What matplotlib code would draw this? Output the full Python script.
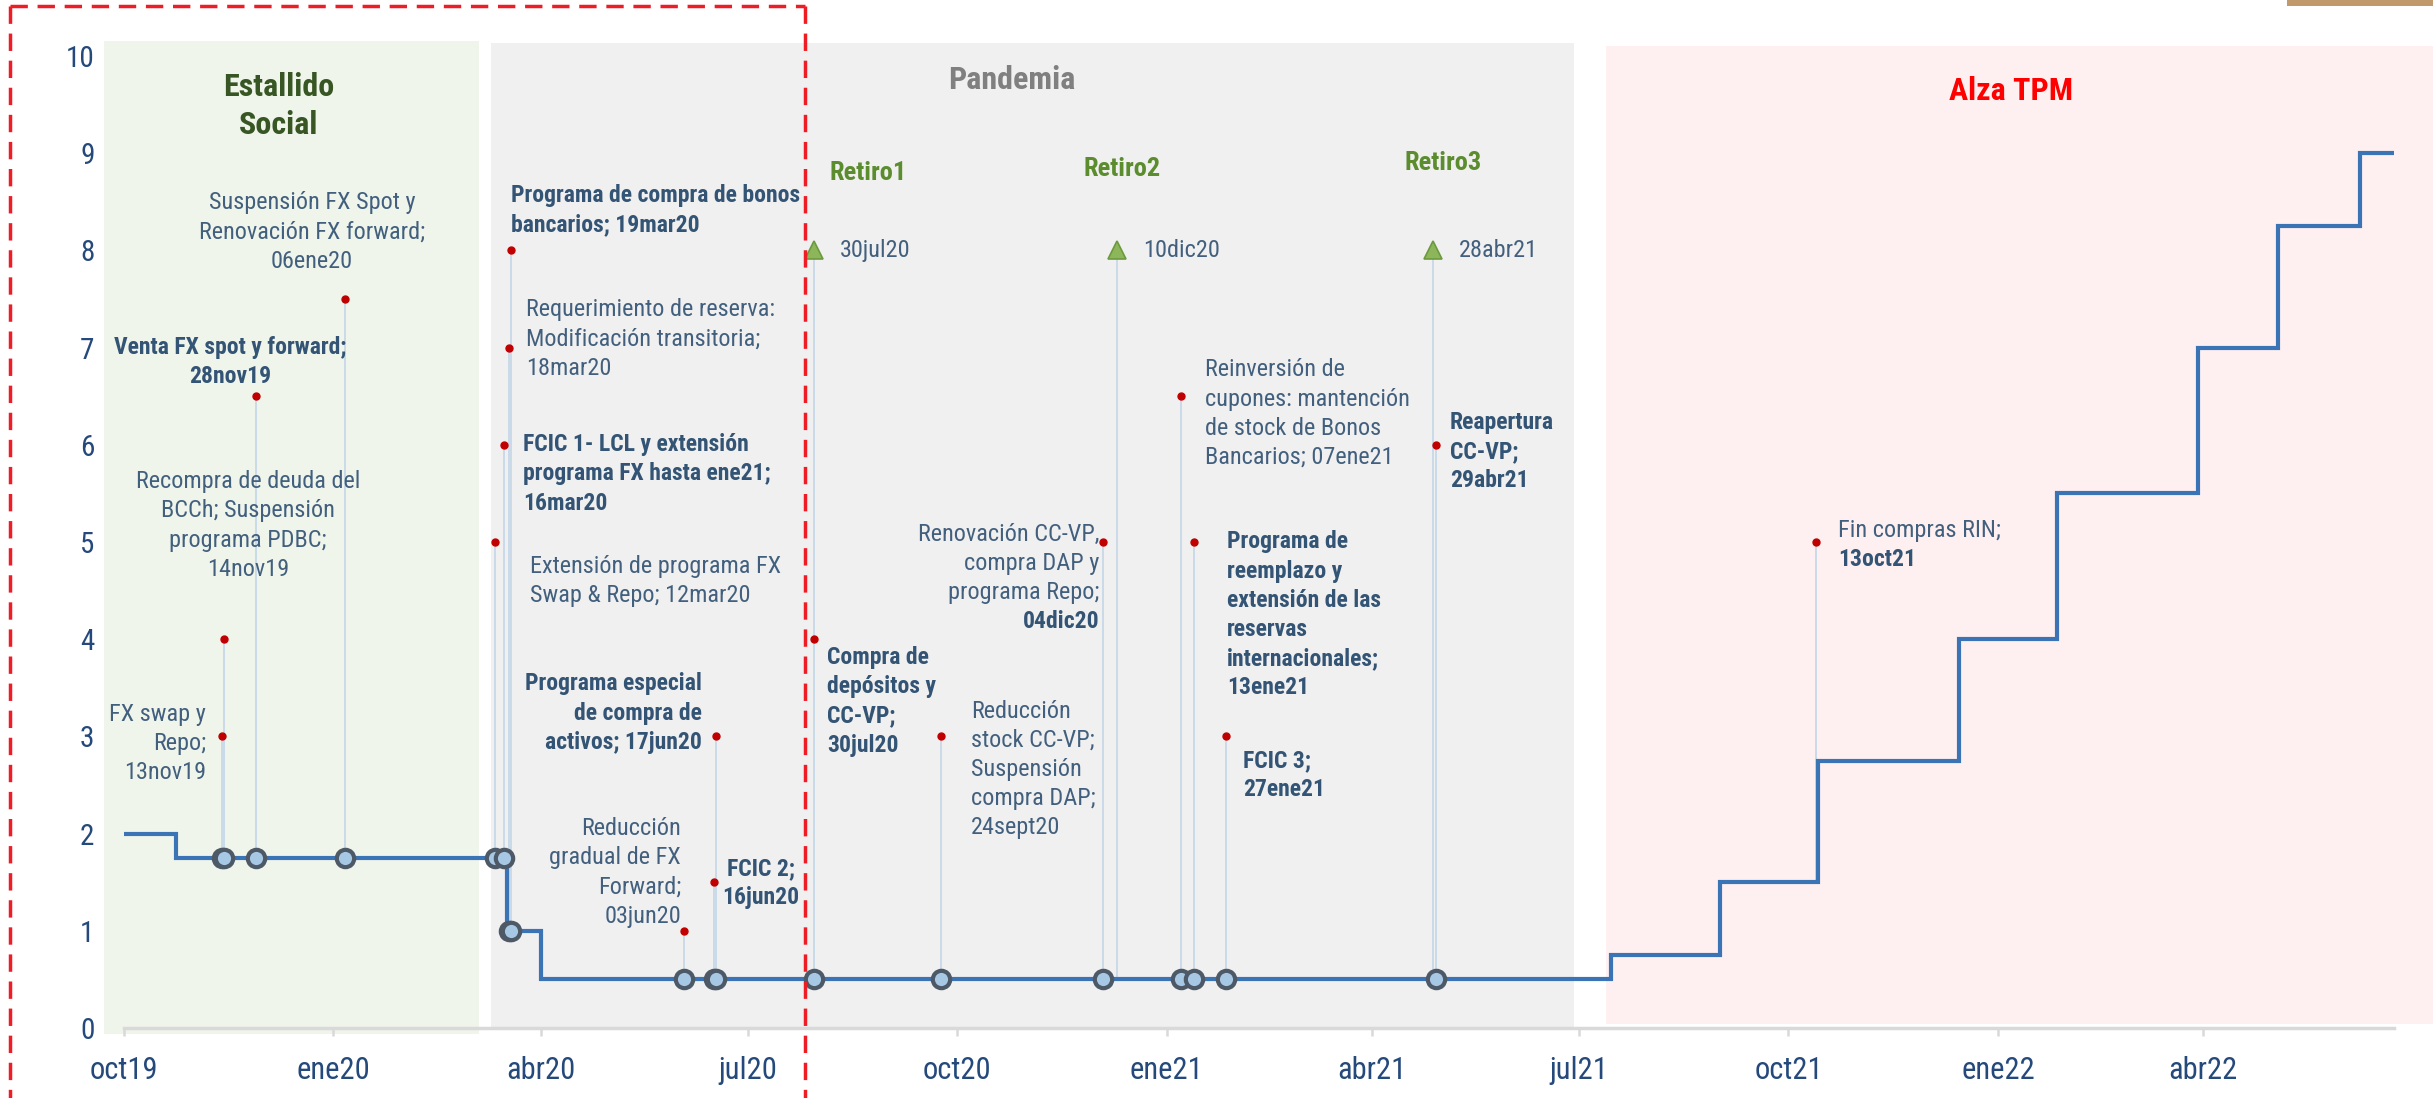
import matplotlib
matplotlib.use("Agg")
import matplotlib.pyplot as plt
import matplotlib.dates as mdates
from matplotlib import font_manager
import numpy as np
import pandas as pd
from matplotlib.patches import Rectangle
from matplotlib.lines import Line2D

# ---------------- DATA ----------------
tpm_dates = ['2019-10-01', '2019-10-24', '2020-03-17', '2020-04-01', '2021-07-15',
             '2021-09-01', '2021-10-14', '2021-12-15', '2022-01-27', '2022-03-30',
             '2022-05-04', '2022-06-09', '2022-06-24']
tpm_values = [2.0, 1.75, 1.0, 0.5, 0.75, 1.5, 2.75, 4.0, 5.5, 7.0, 8.25, 9.0, 9.0]

event_dates = ['2019-11-13', '2019-11-14', '2019-11-28', '2020-01-06', '2020-03-12',
               '2020-03-16', '2020-03-18', '2020-03-19', '2020-06-03', '2020-06-16',
               '2020-06-17', '2020-07-30', '2020-09-24', '2020-12-04', '2021-01-07',
               '2021-01-13', '2021-01-27', '2021-04-29', '2021-10-13']
event_heights = [3, 4, 6.5, 7.5, 5, 6, 7, 8, 1, 1.5, 3, 4, 3, 5, 6.5, 5, 3, 6, 5]
event_labels = [
    "FX swap y\nRepo;\n13nov19",
    "Recompra de deuda del\nBCCh; Suspensión\nprograma PDBC;\n14nov19",
    "Venta FX spot y forward;\n28nov19",
    "Suspensión FX Spot y\nRenovación FX forward;\n06ene20",
    "Extensión de programa FX\nSwap & Repo; 12mar20",
    "FCIC 1- LCL y extensión\nprograma FX hasta ene21;\n16mar20",
    "Requerimiento de reserva:\nModificación transitoria;\n18mar20",
    "Programa de compra de bonos\nbancarios; 19mar20",
    "Reducción\ngradual de FX\nForward;\n03jun20",
    "FCIC 2;\n16jun20",
    "Programa especial\nde compra de\nactivos; 17jun20",
    "Compra de\ndepósitos y\nCC-VP;\n30jul20",
    "Reducción\nstock CC-VP;\nSuspensión\ncompra DAP;\n24sept20",
    "Renovación CC-VP,\ncompra DAP y\nprograma Repo;\n04dic20",
    "Reinversión de\ncupones: mantención\nde stock de Bonos\nBancarios; 07ene21",
    "Programa de\nreemplazo y\nextensión de las\nreservas\ninternacionales;\n13ene21",
    "FCIC 3;\n27ene21",
    "Reapertura\nCC-VP;\n29abr21",
    "Fin compras RIN;\n13oct21",
]
# which lines are bold: 'none', 'all', 'last'
event_weight = ['none', 'none', 'all', 'none', 'none', 'all', 'none', 'all', 'none', 'all',
                'all', 'all', 'none', 'last', 'none', 'all', 'all', 'all', 'last']
event_on_line = [True] * 18 + [False]

retiro_dates = ['2020-07-30', '2020-12-10', '2021-04-28']
retiro_names = ['Retiro1', 'Retiro2', 'Retiro3']
retiro_date_labels = ['30jul20', '10dic20', '28abr21']
retiro_level = 8

region_names = ['Estallido\nSocial', 'Pandemia', 'Alza TPM']
region_starts = ['2019-09-22', '2020-03-10', '2021-07-13']
region_ends = ['2020-03-05', '2021-06-29', '2022-07-12']

xtick_dates = ['2019-10-01', '2020-01-01', '2020-04-01', '2020-07-01', '2020-10-01',
               '2021-01-01', '2021-04-01', '2021-07-01', '2021-10-01', '2022-01-01',
               '2022-04-01']
xtick_labels = ['oct19', 'ene20', 'abr20', 'jul20', 'oct20', 'ene21', 'abr21', 'jul21',
                'oct21', 'ene22', 'abr22']
yticks = [0, 1, 2, 3, 4, 5, 6, 7, 8, 9, 10]


# ---------------- FONTS ----------------
def has_font(name):
    try:
        font_manager.findfont(font_manager.FontProperties(family=name),
                              fallback_to_default=False)
        return True
    except Exception:
        return False


if has_font('Roboto Condensed'):
    FAM = 'Roboto Condensed'
    FS_N, FS_B, FS_XT, FS_YT, FS_REG, FS_RET = 17.5, 17.0, 22, 21, 23, 19
elif has_font('Liberation Sans Narrow'):
    FAM = 'Liberation Sans Narrow'
    FS_N, FS_B, FS_XT, FS_YT, FS_REG, FS_RET = 18, 18, 22, 21, 22, 19
else:
    FAM = 'Lato'
    FS_N, FS_B, FS_XT, FS_YT, FS_REG, FS_RET = 14.8, 16.0, 19.5, 20, 21.5, 18
plt.rcParams['font.family'] = [FAM, 'DejaVu Sans']

# ---------------- LAYOUT ----------------
W, H = 2433, 1098
PX_PER_DAY = 2.277
X0_PX = 124
base = pd.Timestamp('2019-10-01')


def xpx(px):
    return mdates.date2num(base + pd.Timedelta(days=(px - X0_PX) / PX_PER_DAY))


def dnum(s):
    return mdates.date2num(pd.Timestamp(s))


label_dx = [-16, 24, -26, -33, 35, 19, 17, 0, -3, 47, -14, 13, 29.5, -4, 24.5, 33, 17, 14.5, 22]
label_y0 = [3.23, 5.62, 7.0, 8.49, 4.75, 6.0, 7.39, 8.56, 2.05, 1.64, 3.54, 3.81, 3.26, 5.08,
            6.77, 5.0, 2.75, 6.23, 5.12]
label_ha = ['right', 'center', 'center', 'center', 'left', 'left', 'left', 'left', 'right',
            'center', 'right', 'left', 'left', 'right', 'left', 'left', 'left', 'left', 'left']
LINE_STEP = 0.30

C_NORMAL = '#42607E'
C_BOLD = '#335474'
C_TICK = '#24497A'
C_LINE = '#3B74B4'
C_STEM = '#C9DAE8'

fig = plt.figure(figsize=(W / 100, H / 100), dpi=100)
ylo, yhi = -0.08, 10.2
bot_px = 1028 - ylo * 97.2
top_px = 1028 - yhi * 97.2
ax_left_px = 100
ax = fig.add_axes([ax_left_px / W, 1 - bot_px / H, (W - ax_left_px) / W, (bot_px - top_px) / H])
ax.set_xlim(xpx(ax_left_px), xpx(W))
ax.set_ylim(ylo, yhi)
ax.patch.set_alpha(0)

# regions
reg_fc = ['#F0F5EC', '#F0F0F0', '#FEF0F0']
reg_y = [(-0.06, 10.15), (0.0, 10.13), (0.04, 10.1)]
for s, e, fc, (y0, y1) in zip(region_starts, region_ends, reg_fc, reg_y):
    ax.add_patch(Rectangle((dnum(s), y0), dnum(e) - dnum(s), y1 - y0, fc=fc, ec='none',
                           zorder=0, clip_on=False))

reg_lab_px = [278.5, 1012, 2011]
reg_lab_y = [9.68, 9.75, 9.64]
reg_col = ['#375623', '#808080', '#FF0000']
for name, px, y, c in zip(region_names, reg_lab_px, reg_lab_y, reg_col):
    for j, ln in enumerate(name.split('\n')):
        ax.text(xpx(px), y - j * 0.39, ln, ha='center', va='center', fontsize=FS_REG,
                fontweight='bold', color=c)

# TPM line
tx = [dnum(d) for d in tpm_dates]
ax.plot(tx, tpm_values, drawstyle='steps-post', color=C_LINE, lw=3.0, zorder=3,
        solid_joinstyle='miter', solid_capstyle='butt')


def tpm_at(d):
    i = np.searchsorted(np.array(tx), d, side='right') - 1
    return tpm_values[max(i, 0)]


# events
for i, d in enumerate(event_dates):
    x = dnum(d)
    yb = tpm_at(x)
    h = event_heights[i]
    ax.vlines(x, yb, h, color=C_STEM, lw=1.4, zorder=2)
    ax.plot(x, h, 'o', ms=5, color='#C00000', mec='#C00000', zorder=4)
    if event_on_line[i]:
        ax.plot(x, yb, 'o', ms=12.5, mfc='#A6C8E4', mec='#4D5966', mew=3.0, zorder=5)
    lines = event_labels[i].split('\n')
    for j, ln in enumerate(lines):
        w = event_weight[i]
        bold = (w == 'all') or (w == 'last' and j == len(lines) - 1)
        ax.text(x + label_dx[i] / PX_PER_DAY, label_y0[i] - j * LINE_STEP, ln,
                ha=label_ha[i], va='center', fontsize=FS_B if bold else FS_N,
                fontweight='bold' if bold else 'normal',
                color=C_BOLD if bold else C_NORMAL, zorder=6)

# retiros
ret_name_dx = [54, 5, 10]
ret_name_y = [8.8, 8.84, 8.9]
for d, nm, lab, ndx, ny in zip(retiro_dates, retiro_names, retiro_date_labels, ret_name_dx, ret_name_y):
    x = dnum(d)
    ax.vlines(x, tpm_at(x), retiro_level, color=C_STEM, lw=1.4, zorder=2)
    ax.plot(x, retiro_level, '^', ms=13, mfc='#8DB65A', mec='#6C9A3F', mew=1.2, zorder=5)
    ax.text(x + 26 / PX_PER_DAY, retiro_level, lab, ha='left', va='center', fontsize=FS_N,
            color=C_NORMAL, zorder=6)
    ax.text(x + ndx / PX_PER_DAY, ny, nm, ha='center', va='center', fontsize=FS_RET,
            fontweight='bold', color='#5B8C2E', zorder=6)

# axes styling
for sp in ['left', 'right', 'top']:
    ax.spines[sp].set_visible(False)
ax.spines['bottom'].set_position(('data', 0))
ax.spines['bottom'].set_bounds(dnum(tpm_dates[0]), dnum(tpm_dates[-1]))
ax.spines['bottom'].set_color('#D9D9D9')
ax.spines['bottom'].set_linewidth(2.5)
ax.spines['bottom'].set_zorder(1)
ax.set_xticks([dnum(d) for d in xtick_dates])
ax.set_xticklabels(xtick_labels)
ax.set_yticks(yticks)
ax.set_yticklabels([str(v) for v in yticks])
ax.tick_params(axis='x', direction='out', length=6, width=1.8, color='#D9D9D9',
               labelsize=FS_XT, labelcolor=C_TICK, pad=14)
ax.tick_params(axis='y', length=0, labelsize=FS_YT, labelcolor=C_TICK, pad=4)

# red dashed frame and tan bar (figure decorations)
dash = dict(color='#EE1C25', lw=2.5, linestyle=(0, (5.0, 2.8)), transform=fig.transFigure)
fx = lambda p: p / W
fy = lambda p: 1 - p / H
fig.add_artist(Line2D([fx(10.5), fx(10.5)], [fy(5.5), fy(H + 5)], **dash))
fig.add_artist(Line2D([fx(805), fx(805)], [fy(5.5), fy(H + 5)], **dash))
fig.add_artist(Line2D([fx(10.5), fx(805)], [fy(5.5), fy(5.5)], **dash))
fig.add_artist(Rectangle((fx(2287), fy(6)), fx(W) - fx(2287), 6 / H, fc='#C19A6B', ec='none',
                         transform=fig.transFigure))

fig.savefig('out.png', dpi=100)
